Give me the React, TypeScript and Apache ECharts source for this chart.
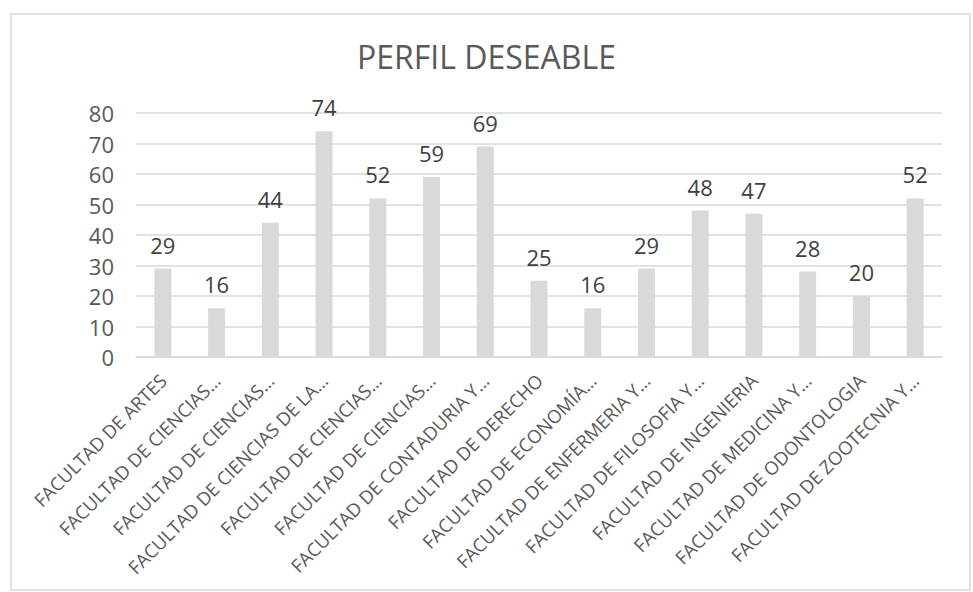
import React, { useEffect, useRef } from "react";
import * as echarts from "echarts";

const titleText = "PERFIL DESEABLE";
const categories = [
  "FACULTAD DE ARTES",
  "FACULTAD DE CIENCIAS…",
  "FACULTAD DE CIENCIAS…",
  "FACULTAD DE CIENCIAS DE LA…",
  "FACULTAD DE CIENCIAS…",
  "FACULTAD DE CIENCIAS…",
  "FACULTAD DE CONTADURIA Y…",
  "FACULTAD DE DERECHO",
  "FACULTAD DE ECONOMÍA…",
  "FACULTAD DE ENFERMERIA Y…",
  "FACULTAD DE FILOSOFIA Y…",
  "FACULTAD DE INGENIERIA",
  "FACULTAD DE MEDICINA Y…",
  "FACULTAD DE ODONTOLOGIA",
  "FACULTAD DE ZOOTECNIA Y…",
];
const values = [29, 16, 44, 74, 52, 59, 69, 25, 16, 29, 48, 47, 28, 20, 52];
const yMin = 0;
const yMax = 80;
const yStep = 10;

const FONT = "'Open Sans', 'Noto Sans', sans-serif";

export default function App() {
  const ref = useRef<HTMLDivElement>(null);
  useEffect(() => {
    if (!ref.current) return;
    const chart = echarts.init(ref.current, undefined, { renderer: "svg" });
    const idx = categories.map((_, i) => String(i));
    chart.setOption({
      animation: false,
      backgroundColor: "#ffffff",
      title: {
        text: titleText,
        left: "center",
        top: 40,
        padding: [0, 0, 0, 9],
        textStyle: { fontFamily: FONT, fontSize: 32, fontWeight: "normal", color: "#595959" },
      },
      graphic: [
        {
          type: "rect",
          shape: { x: 11, y: 14, width: 959, height: 576 },
          style: { fill: "none", stroke: "#d9d9d9", lineWidth: 1.5 },
          silent: true,
        },
      ],
      grid: { left: 136, right: 31, top: 113, bottom: 235, containLabel: false },
      xAxis: {
        type: "category",
        data: idx,
        axisLine: { show: true, lineStyle: { color: "#d9d9d9", width: 1.5 } },
        axisTick: { show: false },
        axisLabel: {
          interval: 0,
          rotate: 45,
          margin: 20,
          fontFamily: FONT,
          fontSize: 18.5,
          color: "#595959",
          formatter: (v: string) => categories[Number(v)],
        },
      },
      yAxis: {
        type: "value",
        min: yMin,
        max: yMax,
        interval: yStep,
        axisLine: { show: false },
        axisTick: { show: false },
        splitLine: { lineStyle: { color: "#d9d9d9", width: 1.5 } },
        axisLabel: { margin: 22, fontFamily: FONT, fontSize: 22, color: "#595959" },
      },
      series: [
        {
          type: "bar",
          data: values,
          barWidth: 17,
          itemStyle: { color: "#d9d9d9" },
          label: {
            show: true,
            position: "top",
            distance: 13,
            fontFamily: FONT,
            fontSize: 22,
            color: "#404040",
          },
        },
      ],
    });
    return () => chart.dispose();
  }, []);
  return (
    <div
      ref={ref}
      style={{ position: "fixed", left: 0, top: 0, width: 973, height: 592, background: "#fff" }}
    />
  );
}
